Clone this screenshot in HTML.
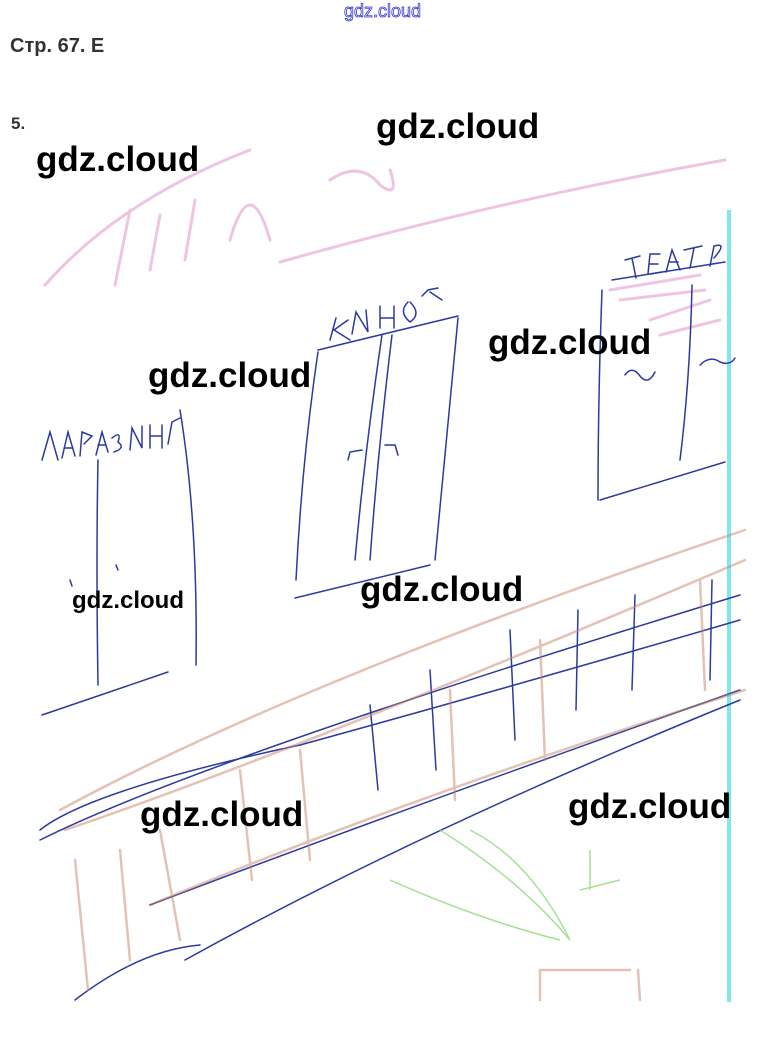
<!DOCTYPE html>
<html><head><meta charset="utf-8"><style>
html,body{margin:0;padding:0;background:#fff;width:765px;height:1061px;overflow:hidden}
svg{display:block}
.wm{font-family:"Liberation Sans",sans-serif;font-weight:bold;fill:#000}
</style></head><body>
<svg width="765" height="1061" viewBox="0 0 765 1061" xmlns="http://www.w3.org/2000/svg">
<text x="344" y="17" font-family="Liberation Sans,sans-serif" font-size="18" fill="#fff" stroke="#3333cc" stroke-width="0.8">gdz.cloud</text>
<text x="10" y="52" font-family="Liberation Sans,sans-serif" font-weight="bold" font-size="20" fill="#333">Стр. 67. Е</text>
<text x="11" y="129" font-family="Liberation Sans,sans-serif" font-weight="bold" font-size="17" fill="#333">5.</text>
<g fill="none" stroke="#e08ac8" stroke-width="3" opacity="0.5" stroke-linecap="round">
<path d="M45 285 Q120 200 250 150"/>
<path d="M280 262 Q500 200 725 160"/>
<path d="M115 285 L130 210 M150 270 L160 215 M185 260 L195 200 M230 240 Q250 170 270 240"/>
<path d="M330 180 Q360 160 380 185 Q400 200 390 170"/>
<path d="M610 290 L700 275 M620 300 L705 290 M650 320 L710 300 M660 335 L720 320"/>
</g>
<rect x="727" y="210" width="4" height="792" fill="#7ee8ec"/>
<g fill="none" stroke="#2b3aa0" stroke-width="1.5" stroke-linecap="round">
<path d="M42 460 L50 432 L58 460 M62 458 L68 432 L75 456 M64 448 L73 448 M80 456 L82 432 L92 436 L84 444 M96 455 L102 432 L108 452 M98 445 L106 445 M112 438 Q122 430 118 442 Q126 448 114 452 M130 450 L132 428 L142 448 L142 426 M150 448 L150 425 M150 436 L162 436 M162 448 L162 425 M168 444 L172 422 M172 422 L180 418"/>
<path d="M98 460 Q96 560 98 685"/>
<path d="M180 410 Q198 520 196 665"/>
<path d="M42 715 L168 672"/>
<path d="M116 565 L118 570 M70 580 L72 586"/>
<path d="M318 352 Q302 460 296 580"/>
<path d="M458 318 Q445 450 435 560"/>
<path d="M382 335 Q365 450 355 560"/>
<path d="M392 335 Q378 450 370 560"/>
<path d="M318 350 L458 316"/>
<path d="M295 598 L430 565"/>
<path d="M348 460 L350 452 L362 450 M385 445 L395 445 L398 455"/>
<path d="M330 340 L336 318 M348 320 L334 330 L350 340 M352 334 L356 312 L368 332 L366 310 M380 328 L380 306 M380 318 L394 318 M394 328 L394 306 M408 302 Q398 312 410 322 Q422 314 410 302 M422 296 L428 290 L438 288 M430 292 L442 300"/>
<path d="M625 260 L640 256 M632 258 L636 278 M648 274 L650 254 L660 254 M650 264 L658 264 M650 274 L662 272 M666 272 L672 250 L680 270 M670 262 L678 262 M690 268 L694 248 M684 250 L702 246 M710 266 L714 246 Q728 242 714 258"/>
<path d="M612 280 L725 262"/>
<path d="M602 290 Q598 400 598 500"/>
<path d="M692 285 Q690 380 680 460"/>
<path d="M600 500 L725 462"/>
<path d="M625 375 Q632 365 640 376 Q648 386 655 372 M700 365 Q710 355 720 362 Q730 366 735 358"/>
<path d="M40 840 Q200 760 740 595"/>
<path d="M40 830 Q90 790 300 745 Q500 690 740 620"/>
<path d="M150 905 Q400 810 740 690"/>
<path d="M185 960 Q420 830 740 700"/>
<path d="M75 1000 Q140 950 200 945"/>
<path d="M370 705 L378 790 M430 670 L436 770 M510 630 L515 740 M578 610 L576 710 M635 595 L632 690 M712 580 L710 680"/>
</g>
<g fill="none" stroke="#c8866a" stroke-width="2.5" opacity="0.5" stroke-linecap="round">
<path d="M60 810 Q300 680 745 530"/>
<path d="M65 830 Q300 750 745 560"/>
<path d="M150 905 Q400 800 745 690"/>
<path d="M75 860 L88 990 M120 850 L130 960 M160 830 L180 940 M240 770 L252 880 M300 750 L310 860 M450 690 L455 800 M540 640 L545 760 M700 580 L705 690"/>
<path d="M540 970 L630 970 M540 970 L540 1000 M638 970 L640 1000"/>
</g>
<g fill="none" stroke="#7ed36a" stroke-width="1.5" opacity="0.7">
<path d="M440 830 Q520 880 570 940 M470 830 Q530 860 570 940 M390 880 Q480 920 560 940 M590 850 L590 890 M580 890 L620 880"/>
</g>
<text class="wm" x="376" y="138" font-size="35">gdz.cloud</text>
<text class="wm" x="36" y="171" font-size="35">gdz.cloud</text>
<text class="wm" x="488" y="354" font-size="35">gdz.cloud</text>
<text class="wm" x="148" y="387" font-size="35">gdz.cloud</text>
<text class="wm" x="360" y="601" font-size="35">gdz.cloud</text>
<text class="wm" x="72" y="608" font-size="24" font-weight="normal">gdz.cloud</text>
<text class="wm" x="140" y="826" font-size="35">gdz.cloud</text>
<text class="wm" x="568" y="818" font-size="35">gdz.cloud</text>
</svg>
</body></html>
